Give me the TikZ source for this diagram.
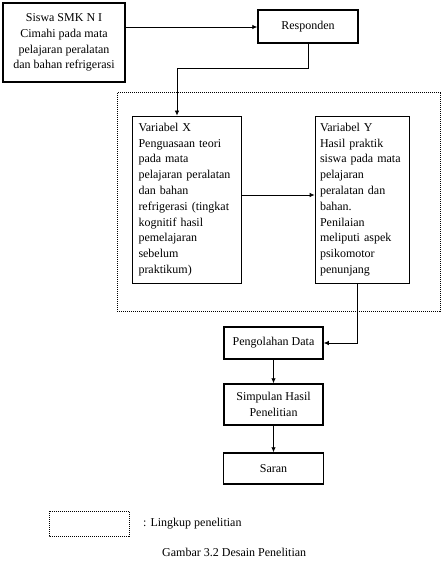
\documentclass[tikz,border=0pt]{standalone}
\usepackage{fontspec}
\setmainfont{Liberation Serif}
\usetikzlibrary{arrows.meta}
\begin{document}
\begin{tikzpicture}[x=1pt,y=-1pt,
  every node/.style={font=\fontsize{12}{15.8}\selectfont, inner sep=0pt},
  thickbox/.style={draw, line width=1.5pt, align=center},
  thinbox/.style={draw, line width=0.8pt},
  arr/.style={line width=0.8pt, -{Latex[length=5pt,width=4.5pt]}},
  conn/.style={line width=0.8pt},
  scope/.style={line width=1pt, dash pattern=on 1pt off 1pt}]
\useasboundingbox (0,0) rectangle (445,572);
\node[thickbox, minimum width=122pt, minimum height=79pt] (b1) at (64,42.5)
  {Siswa SMK N I\\Cimahi pada mata\\pelajaran peralatan\\dan bahan refrigerasi};
\node[thickbox, minimum width=100pt, minimum height=33pt] (resp) at (308,26.5) {Responden};
\draw[scope] (117,93) rectangle (440,311);
\node[thinbox, minimum width=109pt, minimum height=167pt, text width=96pt, align=left] (X) at (186.5,199.5)
  {Variabel X\\Penguasaan teori\\pada mata\\pelajaran peralatan\\dan bahan\\refrigerasi (tingkat\\kognitif hasil\\pemelajaran\\sebelum\\praktikum)};
\node[thinbox, minimum width=94pt, minimum height=167pt, text width=84pt, align=left] (Y) at (362,199.5)
  {Variabel Y\\Hasil praktik\\siswa pada mata\\pelajaran\\peralatan dan\\bahan.\\Penilaian\\meliputi aspek\\psikomotor\\penunjang};
\node[thickbox, minimum width=99pt, minimum height=32pt] (peng) at (273.5,343) {Pengolahan Data};
\node[thickbox, minimum width=99pt, minimum height=41pt] (simp) at (273.5,404.5) {Simpulan Hasil\\Penelitian};
\node[thickbox, minimum width=100pt, minimum height=31pt] (saran) at (273.5,468.5) {Saran};
\draw[scope] (49,511) rectangle (129,536);
\node[anchor=west] (leg) at (143,524) {: Lingkup penelitian};
\node[anchor=west] (cap) at (162,552) {Gambar 3.2 Desain Penelitian};
% connectors
\coordinate (k0) at (0,27);
\draw[arr] (b1.east |- k0) -- (resp.west |- k0);
\coordinate (k1) at (177,68);
\draw[arr] (resp.south) |- (k1) -- (k1 |- X.north);
\coordinate (k2) at (0,195);
\draw[arr] (X.east |- k2) -- (Y.west |- k2);
\coordinate (k3) at (357,343);
\draw[arr] (k3 |- Y.south) -- (k3) -- (peng.east);
\draw[arr] (peng.south) -- (simp.north);
\draw[arr] (simp.south) -- (saran.north);
\end{tikzpicture}
\end{document}
